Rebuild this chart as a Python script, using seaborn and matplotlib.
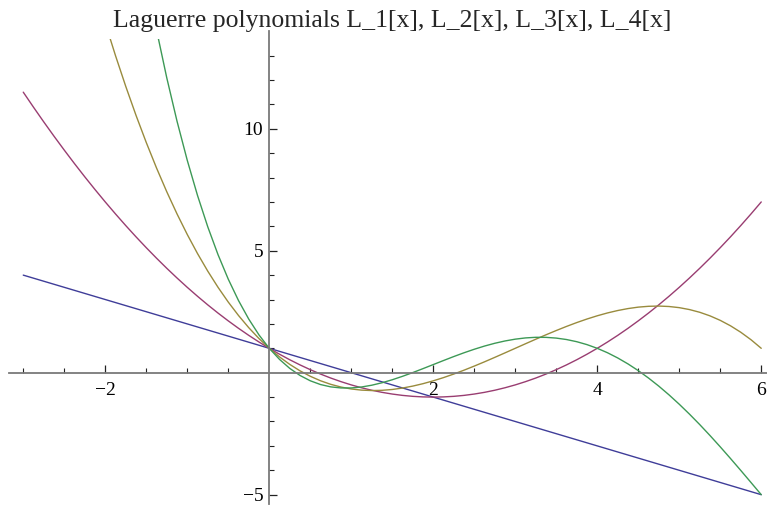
import matplotlib
matplotlib.use("Agg")
import matplotlib.pyplot as plt
import numpy as np
import pandas as pd
import seaborn as sns
from matplotlib.patches import Rectangle
from matplotlib.ticker import FixedLocator, NullFormatter

# ---------------- data ----------------
x_l1 = [-3.0, 6.0]
l1 = [4.0, -5.0]

x_l2 = [-3.0, -2.875, -2.75, -2.625, -2.5, -2.375, -2.25, -2.125, -2.0, -1.875, -1.75,
        -1.625, -1.5, -1.375, -1.25, -1.125, -1.0, -0.875, -0.75, -0.625, -0.5, -0.375,
        -0.25, -0.125, 0.0, 0.125, 0.25, 0.375, 0.5, 0.625, 0.75, 0.875, 1.0, 1.125,
        1.25, 1.375, 1.5, 1.625, 1.75, 1.875, 2.0, 2.125, 2.25, 2.375, 2.5, 2.625, 2.75,
        2.875, 3.0, 3.125, 3.25, 3.375, 3.5, 3.625, 3.75, 3.875, 4.0, 4.125, 4.25, 4.375,
        4.5, 4.625, 4.75, 4.875, 5.0, 5.125, 5.25, 5.375, 5.5, 5.625, 5.75, 5.875, 6.0]
l2 = [11.5, 10.883, 10.281, 9.695, 9.125, 8.570, 8.031, 7.508, 7.0, 6.508, 6.031,
      5.570, 5.125, 4.695, 4.281, 3.883, 3.5, 3.133, 2.781, 2.445, 2.125, 1.820,
      1.531, 1.258, 1.0, 0.758, 0.531, 0.320, 0.125, -0.055, -0.219, -0.367, -0.5, -0.617,
      -0.719, -0.805, -0.875, -0.930, -0.969, -0.992, -1.0, -0.992, -0.969, -0.930, -0.875,
      -0.805, -0.719, -0.617, -0.5, -0.367, -0.219, -0.055, 0.125, 0.320, 0.531, 0.758,
      1.0, 1.258, 1.531, 1.820, 2.125, 2.445, 2.781, 3.133, 3.5, 3.883, 4.281, 4.695,
      5.125, 5.570, 6.031, 6.508, 7.0]

x_l3 = [-2.0, -1.875, -1.75, -1.625, -1.5, -1.375, -1.25, -1.125, -1.0, -0.875, -0.75,
        -0.625, -0.5, -0.375, -0.25, -0.125, 0.0, 0.125, 0.25, 0.375, 0.5, 0.625, 0.75,
        0.875, 1.0, 1.125, 1.25, 1.375, 1.5, 1.625, 1.75, 1.875, 2.0, 2.125, 2.25, 2.375,
        2.5, 2.625, 2.75, 2.875, 3.0, 3.125, 3.25, 3.375, 3.5, 3.625, 3.75, 3.875, 4.0,
        4.125, 4.25, 4.375, 4.5, 4.625, 4.75, 4.875, 5.0, 5.125, 5.25, 5.375, 5.5, 5.625,
        5.75, 5.875, 6.0]
l3 = [14.333, 12.997, 11.737, 10.551, 9.438, 8.394, 7.419, 6.511, 5.667, 4.885, 4.164,
      3.502, 2.896, 2.345, 1.846, 1.399, 1.0, 0.648, 0.341, 0.077, -0.146, -0.330, -0.477,
      -0.588, -0.667, -0.714, -0.732, -0.722, -0.688, -0.629, -0.549, -0.450, -0.333,
      -0.201, -0.055, 0.103, 0.271, 0.446, 0.628, 0.813, 1.0, 1.187, 1.372, 1.554, 1.729,
      1.897, 2.055, 2.201, 2.333, 2.450, 2.549, 2.629, 2.688, 2.722, 2.732, 2.714, 2.667,
      2.588, 2.477, 2.330, 2.146, 1.923, 1.659, 1.352, 1.0]

x_l4 = [-1.5, -1.375, -1.25, -1.125, -1.0, -0.875, -0.75, -0.625, -0.5, -0.375, -0.25,
        -0.125, 0.0, 0.125, 0.25, 0.375, 0.5, 0.625, 0.75, 0.875, 1.0, 1.125, 1.25, 1.375,
        1.5, 1.625, 1.75, 1.875, 2.0, 2.125, 2.25, 2.375, 2.5, 2.625, 2.75, 2.875, 3.0,
        3.125, 3.25, 3.375, 3.5, 3.625, 3.75, 3.875, 4.0, 4.125, 4.25, 4.375, 4.5, 4.625,
        4.75, 4.875, 5.0, 5.125, 5.25, 5.375, 5.5, 5.625, 5.75, 5.875, 6.0]
l4 = [16.211, 14.054, 12.091, 10.313, 8.708, 7.268, 5.982, 4.841, 3.836, 2.958, 2.198,
      1.548, 1.0, 0.546, 0.177, -0.113, -0.331, -0.485, -0.581, -0.625, -0.625, -0.586,
      -0.513, -0.412, -0.289, -0.148, 0.005, 0.167, 0.333, 0.499, 0.662, 0.817, 0.961,
      1.092, 1.206, 1.301, 1.375, 1.426, 1.451, 1.449, 1.419, 1.360, 1.271, 1.151, 1.0,
      0.818, 0.604, 0.360, 0.086, -0.218, -0.549, -0.908, -1.292, -1.699, -2.127, -2.575,
      -3.039, -3.517, -4.005, -4.501, -5.0]

series_names = ["L_1", "L_2", "L_3", "L_4"]
series_colors = [(0.2472, 0.24, 0.6), (0.6, 0.24, 0.4429),
                 (0.6, 0.547, 0.24), (0.24, 0.6, 0.3369)]

x_major = [-2, 2, 4, 6]
x_minor = [-3, -2.5, -1.5, -1, -0.5, 0.5, 1, 1.5, 2.5, 3, 3.5, 4.5, 5, 5.5]
y_major = [-5, 5, 10]
y_minor = [-4, -3, -2, -1, 1, 2, 3, 4, 6, 7, 8, 9, 11, 12, 13]

title_text = "Laguerre polynomials L_1[x], L_2[x], L_3[x], L_4[x]"

# ---------------- build long-form table ----------------
frames = []
for name, xs, ys in zip(series_names, [x_l1, x_l2, x_l3, x_l4], [l1, l2, l3, l4]):
    frames.append(pd.DataFrame({"x": xs, "y": ys, "series": name}))
df = pd.concat(frames, ignore_index=True)

# ---------------- style ----------------
sns.set_style("ticks")
plt.rcParams["font.family"] = ["Liberation Serif", "DejaVu Serif"]
plt.rcParams["axes.unicode_minus"] = True

W, H = 767, 505
fig = plt.figure(figsize=(W / 100, H / 100), dpi=100)
left_px, right_px, top_px, bot_px = 8.5, 776.0, 30.7, 503.7
ax = fig.add_axes([left_px / W, 1 - bot_px / H, (right_px - left_px) / W,
                   (bot_px - top_px) / H])
ax.set_facecolor("white")

sns.lineplot(data=df, x="x", y="y", hue="series", palette=series_colors,
             sort=False, estimator=None, legend=False, ax=ax, linewidth=1.0)

ax.set_xlim(-3.18, 6.18)
ax.set_ylim(-5.37, 14.02)

# clip curves at the plot range top (Mathematica style)
clip = Rectangle((-10, -10), 30, 23.68, transform=ax.transData)
for ln in ax.lines:
    ln.set_clip_path(clip)

# axes through origin
for s in ["top", "right"]:
    ax.spines[s].set_visible(False)
for s in ["left", "bottom"]:
    ax.spines[s].set_position(("data", 0))
    ax.spines[s].set_color("#7a7a7a")
    ax.spines[s].set_linewidth(1.3)

ax.xaxis.set_major_locator(FixedLocator(x_major))
ax.xaxis.set_minor_locator(FixedLocator(x_minor))
ax.yaxis.set_major_locator(FixedLocator(y_major))
ax.yaxis.set_minor_locator(FixedLocator(y_minor))
ax.xaxis.set_minor_formatter(NullFormatter())
ax.yaxis.set_minor_formatter(NullFormatter())

ax.tick_params(axis="both", which="both", bottom=True, left=True, top=False,
               right=False)
ax.tick_params(axis="both", which="major", direction="in", length=6, width=0.9,
               color="#222222", labelsize=14, labelcolor="black")
ax.tick_params(axis="both", which="minor", direction="in", length=3.6, width=0.8,
               color="#222222")
ax.tick_params(axis="x", which="major", pad=7)
ax.tick_params(axis="y", which="major", pad=4.3)
ax.set_xlabel("")
ax.set_ylabel("")

fig.text(392.5 / W, 1 - 27 / H, title_text, ha="center", va="baseline",
         fontsize=18.5, family=["Liberation Serif", "DejaVu Serif"])

fig.savefig("out.png", dpi=100)
